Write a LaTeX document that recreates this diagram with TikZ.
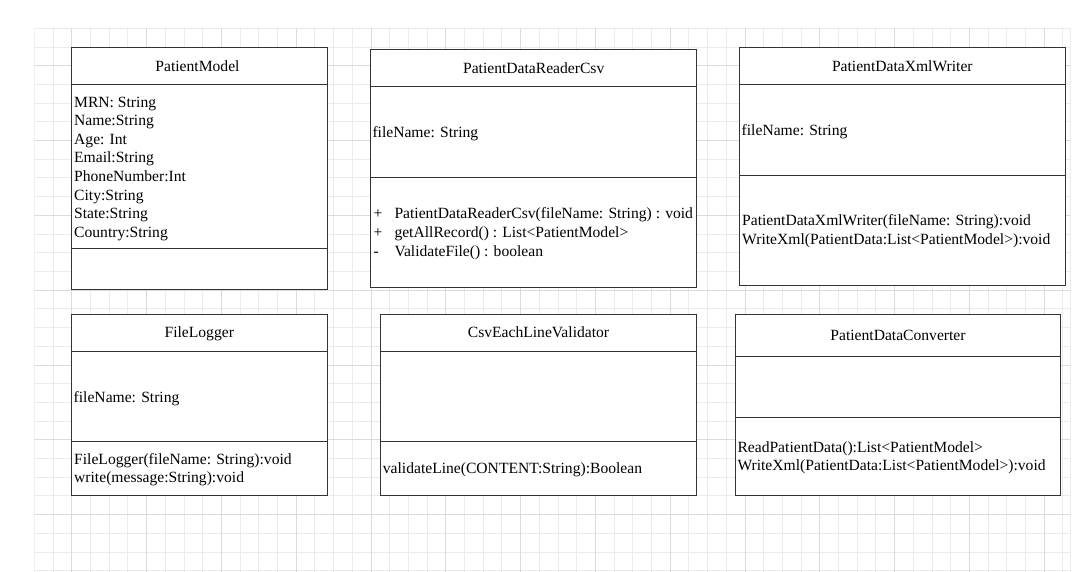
\documentclass[tikz,border=0pt]{standalone}
\usepackage{fontspec}
\setmainfont{Liberation Serif}
\begin{document}
\begin{tikzpicture}[x=1pt,y=-1pt,
  txt/.style={anchor=base west, inner sep=0pt, font=\fontsize{15.6}{18.6}\selectfont},
  ttl/.style={anchor=base, inner sep=0pt, font=\fontsize{15.6}{18.6}\selectfont},
  box/.style={draw=black!80, line width=1pt, fill=white},
  sep/.style={draw=black!80, line width=1pt},
  minor/.style={draw=black!8, line width=0.8pt},
  major/.style={draw=black!14, line width=0.8pt}]
\useasboundingbox[fill=white] (0,0) rectangle (1088,572);
% grid
\begin{scope}
\clip (34.3,28.3) rectangle (1070,572);
\foreach \i in {0,...,56} \draw[minor] ({34.3+18.7*\i},28.3) -- ({34.3+18.7*\i},572);
\foreach \j in {0,...,30} \draw[minor] (34.3,{28.3+18.7*\j}) -- (1070,{28.3+18.7*\j});
\foreach \i in {0,...,14} \draw[major] ({71.7+74.8*\i},28.3) -- ({71.7+74.8*\i},572);
\foreach \j in {0,...,7} \draw[major] (34.3,{65.7+74.8*\j}) -- (1070,{65.7+74.8*\j});
\end{scope}
\draw[minor] (1070,28.3) -- (1070,572);

% PatientModel
\draw[box] (71.5,47.3) rectangle (327.5,289.3);
\draw[sep] (71.5,84.3) -- (327.5,84.3);
\draw[sep] (71.5,249) -- (327.5,249);
\node[ttl] (pmT) at (197.5,71.5) {PatientModel};
\node[txt] (pm1) at (74,107.2) {MRN: String};
\node[txt] (pm2) at (74,125.8) {Name:String};
\node[txt] (pm3) at (74,144.4) {Age: Int};
\node[txt] (pm4) at (74,163.0) {Email:String};
\node[txt] (pm5) at (74,181.6) {PhoneNumber:Int};
\node[txt] (pm6) at (74,200.2) {City:String};
\node[txt] (pm7) at (74,218.8) {State:String};
\node[txt] (pm8) at (74,237.4) {Country:String};

% PatientDataReaderCsv
\draw[box] (370.7,49.3) rectangle (696.7,287.3);
\draw[sep] (370.7,86.7) -- (696.7,86.7);
\draw[sep] (370.7,177.3) -- (696.7,177.3);
\node[ttl] (rcT) at (533.7,73.8) {PatientDataReaderCsv};
\node[txt] (rc1) at (372.3,137.2) {fileName: String};
\node[txt] (rcp1) at (373.3,218.8) {+};
\node[txt] (rcm1) at (394.3,218.8) {PatientDataReaderCsv(fileName: String) : void};
\node[txt] (rcp2) at (373.3,237.5) {+};
\node[txt] (rcm2) at (394.3,237.5) {getAllRecord() : List<PatientModel>};
\node[txt] (rcp3) at (373.3,256.2) {-};
\node[txt] (rcm3) at (394.3,256.2) {ValidateFile() : boolean};

% PatientDataXmlWriter
\draw[box] (739.3,47.3) rectangle (1065.3,285.7);
\draw[sep] (739.3,84.3) -- (1065.3,84.3);
\draw[sep] (739.3,175.3) -- (1065.3,175.3);
\node[ttl] (xwT) at (902.3,71.5) {PatientDataXmlWriter};
\node[txt] (xw1) at (741.5,135.5) {fileName: String};
\node[txt] (xwm1) at (742,225.5) {PatientDataXmlWriter(fileName: String):void};
\node[txt] (xwm2) at (742,244.8) {WriteXml(PatientData:List<PatientModel>):void};

% FileLogger
\draw[box] (71.3,314.3) rectangle (327.3,495.3);
\draw[sep] (71.3,351.7) -- (327.3,351.7);
\draw[sep] (71.3,441.3) -- (327.3,441.3);
\node[ttl] (flT) at (199.3,337.8) {FileLogger};
\node[txt] (fl1) at (73.5,402.2) {fileName: String};
\node[txt] (flm1) at (74,464.8) {FileLogger(fileName: String):void};
\node[txt] (flm2) at (74,482.2) {write(message:String):void};

% CsvEachLineValidator
\draw[box] (380.7,314.3) rectangle (696.3,495.3);
\draw[sep] (380.7,351.7) -- (696.3,351.7);
\draw[sep] (380.7,441.3) -- (696.3,441.3);
\node[ttl] (cvT) at (538.5,337.8) {CsvEachLineValidator};
\node[txt] (cvm1) at (382.7,473.8) {validateLine(CONTENT:String):Boolean};

% PatientDataConverter
\draw[box] (735.7,314.7) rectangle (1060.3,495);
\draw[sep] (735.7,356.3) -- (1060.3,356.3);
\draw[sep] (735.7,417.3) -- (1060.3,417.3);
\node[ttl] (pcT) at (898,340.5) {PatientDataConverter};
\node[txt] (pcm1) at (737.3,452.2) {ReadPatientData():List<PatientModel>};
\node[txt] (pcm2) at (737.3,470.5) {WriteXml(PatientData:List<PatientModel>):void};
\end{tikzpicture}
\end{document}
